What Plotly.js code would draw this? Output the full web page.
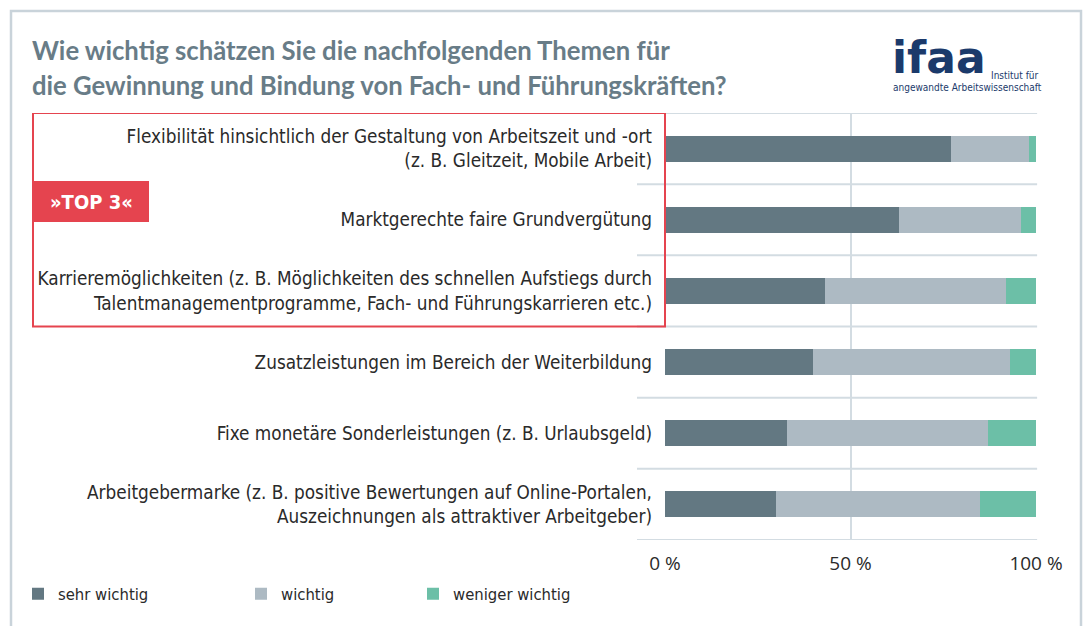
<!DOCTYPE html>
<html>
<head>
<meta charset="utf-8">
<script src="https://cdn.plot.ly/plotly-3.0.1.min.js"></script>
<style>html,body{margin:0;padding:0;background:#fff;}#chart{width:1087px;height:626px;}</style>
</head>
<body>
<div id="chart"></div>
<script>
const categories = [
  "Flexibilität hinsichtlich der Gestaltung von Arbeitszeit und -ort<br>(z. B. Gleitzeit, Mobile Arbeit)",
  "Marktgerechte faire Grundvergütung",
  "Karrieremöglichkeiten (z. B. Möglichkeiten des schnellen Aufstiegs durch<br>Talentmanagementprogramme, Fach- und Führungskarrieren etc.)",
  "Zusatzleistungen im Bereich der Weiterbildung",
  "Fixe monetäre Sonderleistungen (z. B. Urlaubsgeld)",
  "Arbeitgebermarke (z. B. positive Bewertungen auf Online-Portalen,<br>Auszeichnungen als attraktiver Arbeitgeber)"
];
const seriesNames = ["sehr wichtig", "wichtig", "weniger wichtig"];
const sehrWichtig = [77, 63, 43, 40, 33, 30];
const wichtig = [21, 33, 49, 53, 54, 55];
const wenigerWichtig = [2, 4, 8, 7, 13, 15];
const tickValues = [0, 50, 100];
const tickLabels = ["0 %", "50 %", "100 %"];
const titleLines = ["Wie wichtig schätzen Sie die nachfolgenden Themen für", "die Gewinnung und Bindung von Fach- und Führungskräften?"];
const highlightLabel = "»TOP 3«";
const topCount = 3;

// layout geometry (pixels)
const W = 1087, H = 626;
const M = {l: 665, r: 51, t: 113, b: 86};
const pw = W - M.l - M.r, ph = H - M.t - M.b;
const px = x => (x - M.l) / pw;
const py = y => (H - M.b - y) / ph;

const condensed = '"DejaVu Sans Condensed", "Liberation Sans Narrow", "DejaVu Sans", sans-serif';
const colors = ["#637882", "#adbac3", "#6cbfa7"];
const grid = "#d3dce2";
const red = "#e5444f";

const values = [sehrWichtig, wichtig, wenigerWichtig];
const legendIds = ["legend", "legend2", "legend3"];
const traces = values.map((v, i) => ({
  type: "bar", orientation: "h", name: seriesNames[i],
  x: v, y: categories, width: 0.365,
  marker: {color: colors[i], line: {width: 0}},
  legend: legendIds[i], hoverinfo: "x+name"
}));

const shapes = [];
// outer frame
shapes.push({type: "rect", xref: "paper", yref: "paper", x0: px(11), x1: px(1081), y0: py(720), y1: py(11),
  line: {color: "#c9d3da", width: 2.5}, fillcolor: "rgba(0,0,0,0)", layer: "below"});
// row separators
for (let i = 0; i <= categories.length; i++) {
  shapes.push({type: "line", xref: "paper", yref: "y", x0: px(637), x1: 1.003, y0: i - 0.5, y1: i - 0.5,
    line: {color: grid, width: 2}, layer: "below"});
}
// highlight box
shapes.push({type: "rect", xref: "paper", yref: "y", x0: px(33), x1: 0, y0: -0.5, y1: topCount - 0.5,
  line: {color: red, width: 2}, fillcolor: "rgba(0,0,0,0)", layer: "above"});
// badge
shapes.push({type: "rect", xref: "paper", yref: "paper", x0: px(33), x1: px(149), y0: py(222), y1: py(181),
  line: {width: 0}, fillcolor: red, layer: "above"});

const titleFont = {family: "Lato, 'Open Sans', sans-serif", size: 25.7, color: "#687c87", weight: "bold"};
const annotations = [
  {text: titleLines[0], xref: "paper", yref: "paper", x: px(30), y: py(50), xanchor: "left", yanchor: "middle", showarrow: false, font: titleFont},
  {text: titleLines[1], xref: "paper", yref: "paper", x: px(30), y: py(85), xanchor: "left", yanchor: "middle", showarrow: false, font: titleFont},
  {text: highlightLabel, xref: "paper", yref: "paper", x: px(91), y: py(202), xanchor: "center", yanchor: "middle", showarrow: false,
   font: {family: condensed, size: 20, color: "#ffffff", weight: "bold"}},
  {text: "ifaa", xref: "paper", yref: "paper", x: px(890), y: py(57), xanchor: "left", yanchor: "middle", showarrow: false,
   font: {family: "'DejaVu Sans', sans-serif", size: 44, color: "#1b3a6b", weight: "bold"}},
  {text: "Institut für", xref: "paper", yref: "paper", x: px(989), y: py(76), xanchor: "left", yanchor: "middle", showarrow: false,
   font: {family: condensed, size: 10, color: "#1b3a6b"}},
  {text: "angewandte Arbeitswissenschaft", xref: "paper", yref: "paper", x: px(891), y: py(88), xanchor: "left", yanchor: "middle", showarrow: false,
   font: {family: condensed, size: 10, color: "#1b3a6b"}}
];

const legendBase = {orientation: "h", yanchor: "middle", xanchor: "left", y: py(594),
  bgcolor: "rgba(0,0,0,0)", font: {family: condensed, size: 16.5, color: "#2a2a2a"}, itemclick: false, itemdoubleclick: false};
const layout = {
  width: W, height: H,
  margin: M,
  paper_bgcolor: "#ffffff", plot_bgcolor: "#ffffff",
  barmode: "stack",
  showlegend: true,
  legend: Object.assign({}, legendBase, {x: px(18)}),
  legend2: Object.assign({}, legendBase, {x: px(241)}),
  legend3: Object.assign({}, legendBase, {x: px(413)}),
  xaxis: {range: [0, 100], tickmode: "array", tickvals: tickValues, ticktext: tickLabels, showgrid: true, gridcolor: grid, gridwidth: 2,
    zeroline: false, showline: false, ticks: "", ticklabelstandoff: 10, fixedrange: true,
    tickfont: {family: "'Open Sans', 'Noto Sans', sans-serif", size: 19, color: "#2a2a2a"}},
  yaxis: {type: "category", range: [categories.length - 0.5, -0.5], showgrid: false, zeroline: false, showline: false,
    ticks: "", ticklabelstandoff: 12, fixedrange: true,
    tickfont: {family: condensed, size: 18.8, color: "#2a2a2a"}},
  shapes: shapes,
  annotations: annotations
};
Plotly.newPlot("chart", traces, layout, {displayModeBar: false});
</script>
</body>
</html>
